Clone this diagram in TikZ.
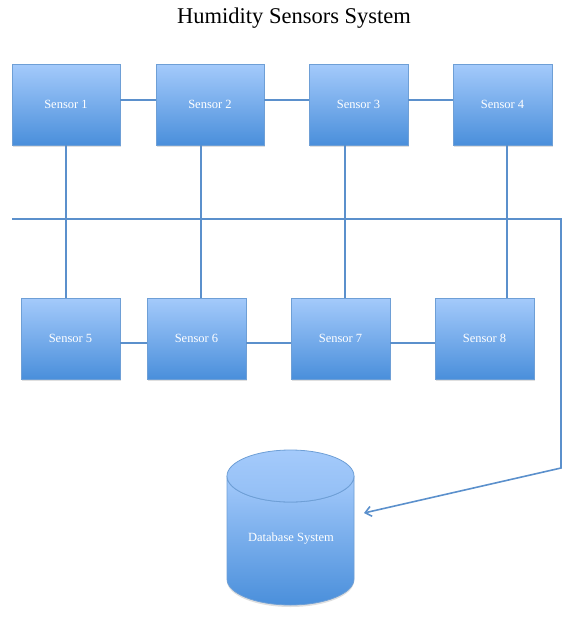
\documentclass[tikz,border=0pt]{standalone}
\usepackage{fontspec}
\setmainfont{Liberation Serif}
\usetikzlibrary{arrows.meta,shadows}
\definecolor{boxtop}{HTML}{A4CAFB}
\definecolor{boxbot}{HTML}{4A8FDB}
\definecolor{boxline}{HTML}{6E9FD6}
\definecolor{wirecol}{HTML}{5B90CC}
\begin{document}
\begin{tikzpicture}[x=1pt, y=-1pt,
  sensor/.style={draw=boxline, line width=.8pt, top color=boxtop, bottom color=boxbot,
    text=white, font=\fontsize{12.5}{14}\selectfont, minimum height=81pt,
    drop shadow={opacity=.25, shadow xshift=1.2pt, shadow yshift=-1.5pt}},
  wide/.style={minimum width=108pt},
  narrow/.style={minimum width=99pt},
  wire/.style={draw=wirecol, line width=1.6pt}]
\useasboundingbox (0,0) rectangle (583,625);

\node (title) at (294,18) {\fontsize{22.5}{26}\selectfont Humidity Sensors System};

\node [sensor, wide] (s1) at (66,104.5) {Sensor 1};
\node [sensor, wide] (s2) at (210,104.5) {Sensor 2};
\node [sensor, narrow] (s3) at (358.5,104.5) {Sensor 3};
\node [sensor, narrow] (s4) at (502.5,104.5) {Sensor 4};

\node [sensor, narrow] (s5) at (70.5,338.5) {Sensor 5};
\node [sensor, narrow] (s6) at (196.5,338.5) {Sensor 6};
\node [sensor, narrow] (s7) at (340.5,338.5) {Sensor 7};
\node [sensor, narrow] (s8) at (484.5,338.5) {Sensor 8};

\foreach \a/\b in {s1/s2,s2/s3,s3/s4}
{
   \draw [wire]([yshift=4.5pt]\a.east)--([yshift=4.5pt]\b.west);
}
\foreach \a/\b in {s5/s6,s6/s7,s7/s8}
{
   \draw [wire]([yshift=-4.5pt]\a.east)--([yshift=-4.5pt]\b.west);
}
\foreach \a/\b/\da/\db in {s1/s5/0/-4.5, s2/s6/-9/4.5, s3/s7/-13.5/4.5, s4/s8/4.5/22.5}
{
   \draw [wire]([xshift=\da pt]\a.south)--([xshift=\db pt]\b.north);
}

% database cylinder
\shade [top color=boxtop, bottom color=boxbot, draw=boxline, line width=.8pt,
  drop shadow={opacity=.25, shadow xshift=0pt, shadow yshift=-2pt}]
  (227,476) arc[start angle=180, end angle=360, x radius=63.5pt, y radius=26pt]
  -- (354,579) arc[start angle=0, end angle=-180, x radius=63.5pt, y radius=26pt] -- cycle;
\shade [top color=boxtop, bottom color=boxtop!80!boxbot, draw=boxline, line width=.8pt]
  (290.5,476) ellipse [x radius=63.5pt, y radius=26pt];
\node [text=white, font=\fontsize{12.5}{14}\selectfont] (db) at (291,539) {Database System};
\coordinate (dbin) at (364,513);

\coordinate (busl) at (12,219);
\coordinate (busr) at (561,219);
\coordinate (bend) at (561,468);
\draw [wire, -{Straight Barb[length=6pt, width=10pt]}] (busl)--(busr)--(bend)--(dbin);
\end{tikzpicture}
\end{document}
